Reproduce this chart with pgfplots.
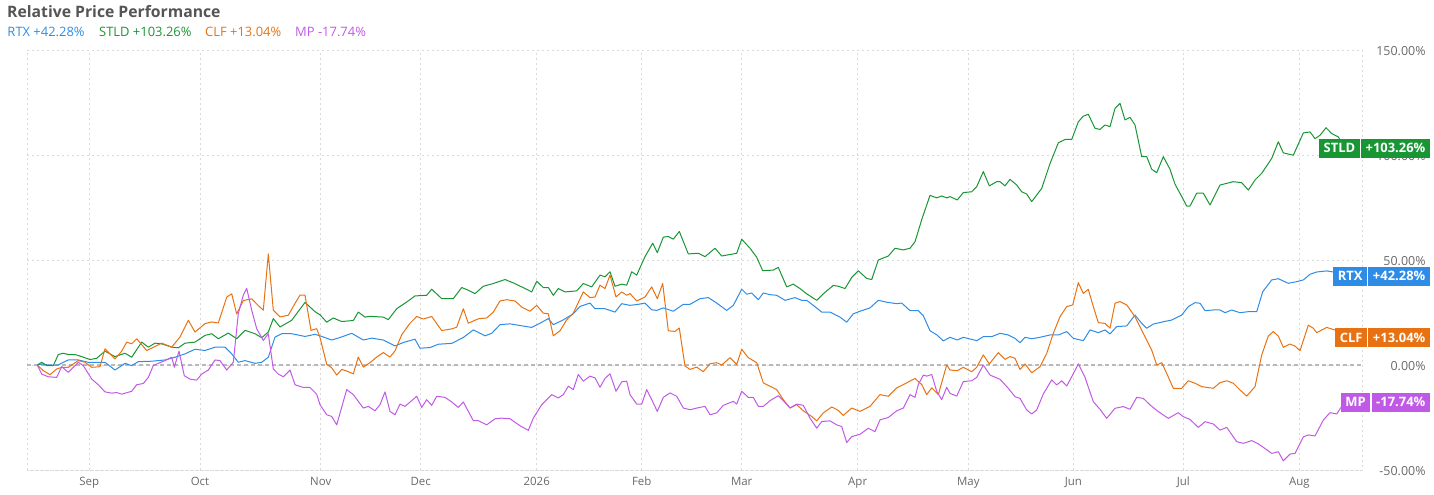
\documentclass[border=0pt]{standalone}
\usepackage{pgfplots}
\pgfplotsset{compat=1.18}
\usepackage{fontspec}
\setmainfont{Open Sans}
\definecolor{rtx}{RGB}{46,140,230}
\definecolor{stld}{RGB}{24,150,52}
\definecolor{clf}{RGB}{232,114,18}
\definecolor{mp}{RGB}{192,90,230}
\definecolor{gridc}{RGB}{218,218,218}
\definecolor{zeroc}{RGB}{185,185,185}
\definecolor{titlec}{RGB}{85,85,85}
\definecolor{tickc}{RGB}{105,105,105}
\newcommand\legfont{\fontsize{13}{15}\selectfont}
\begin{document}
\begin{tikzpicture}[
  endlab/.style={inner xsep=4.5bp, inner ysep=0pt, minimum height=19bp, text=white, font=\fontsize{13}{15}\selectfont\bfseries}]
\useasboundingbox (0bp,-495bp) rectangle (1434bp,0bp);
\node[anchor=base west,inner sep=0,text=titlec,font=\fontsize{15.8}{19}\selectfont\bfseries] at (7bp,-17.3bp) {Relative Price Performance};
\node[anchor=base west,inner sep=0,text=rtx,font=\legfont] at (7.3bp,-36.7bp) {RTX +42.28\%};
\node[anchor=base west,inner sep=0,text=stld,font=\legfont] at (99bp,-36.7bp) {STLD +103.26\%};
\node[anchor=base west,inner sep=0,text=clf,font=\legfont] at (205bp,-36.7bp) {CLF +13.04\%};
\node[anchor=base west,inner sep=0,text=mp,font=\legfont] at (295bp,-36.7bp) {MP -17.74\%};
\begin{axis}[at={(27bp,-470bp)},anchor=south west,scale only axis,width=1335bp,height=420bp,
 xmin=27,xmax=1362,ymin=-50,ymax=150,
 xtick={89.3,200,320.7,420.7,536.7,641.7,741.7,857.7,968.3,1073.3,1183.3,1299.3},
 xticklabels={Sep,Oct,Nov,Dec,2026,Feb,Mar,Apr,May,Jun,Jul,Aug},
 ytick={-50,0,50,100,150},
 yticklabels={-50.00\%,0.00\%,50.00\%,100.00\%,150.00\%},
 yticklabel pos=right,
 grid=major,
 major grid style={gridc, line width=0.8bp, dash pattern=on 2bp off 3bp},
 axis line style={gridc, line width=0.8bp, dash pattern=on 2bp off 3bp},
 major tick length=0pt,
 xticklabel style={anchor=base, inner sep=0pt, yshift=-15bp, font=\fontsize{11.5}{13}\selectfont, text=tickc},
 yticklabel style={anchor=base east, inner sep=0pt, xshift=63.7bp, yshift=-5bp, font=\fontsize{12.5}{14}\selectfont, text=tickc},
 clip=false,
 every axis plot/.append style={line width=1bp, line join=round},
]
\draw[zeroc, line width=1.3bp, dash pattern=on 4bp off 3bp] (axis cs:27,0) -- (axis cs:1362,0);
% RTX
\addplot[rtx] coordinates {
(37.3,0)(41.7,0.5)(48.3,0)(58.3,0)(63.3,1.3)(68.3,2.4)(78.3,2.4)(88.3,1.3)(95,1.3)(105,1.3)
(115,-2.4)(125,0.8)(131.7,-0.3)(138.3,1.6)(151.7,1.8)(165,2.4)(175,3.7)(185,5.3)(195,7.5)(205,6.9)
(215,8.5)(225,8.5)(231.7,5.3)(238.3,1.3)(245,2.1)(255,0.8)(261.7,1.3)(268.3,3.7)(275,13.3)(281.7,14.9)
(291.7,14.9)(305,13.6)(315,14.6)(320,13.9)(331.7,11.9)(340,13.1)(351.7,15.1)(363.3,11.9)(371.7,12.8)(383.3,11.9)
(395,9.1)(403.3,10.7)(415,12.3)(420,8.0)(430,8.3)(438.3,9.9)(451.7,10.3)(463.3,13.1)(473.3,16.7)(485,13.9)
(491.7,15.1)(500,19.2)(510,19.6)(520,18.8)(531.7,17.9)(540,19.9)(548.3,22.1)(553.3,19.2)(563.3,21.5)(573.3,24.4)
(580,27.9)(590,29.5)(595,26.8)(605,26.8)(615,25.2)(621.7,29.2)(630,28.4)(638.3,28.9)(645,29.5)(651.7,26.3)
(656.7,26.0)(663.3,27.2)(673.3,25.6)(683.3,28.9)(690,28.9)(700,31.6)(708.3,32.1)(716.7,29.5)(726.7,26.0)(733.3,28.4)
(741.7,36.1)(746.7,33.7)(751.7,34.3)(758.3,31.1)(763.3,34.3)(770,33.5)(776.7,33.2)(785,30.8)(795,32.1)(801.7,30.8)
(806.7,30.8)(813.3,28.4)(821.7,25.2)(830,25.2)(840,22.8)(846.7,20.4)(853.3,24.4)(860,25.6)(870,27.2)(878.3,30.8)
(886.7,29.9)(896.7,29.2)(901.7,29.5)(910,25.9)(918.3,25.9)(923.3,23.5)(930,16.3)(936.7,14.4)(943.3,11.5)(950,13.2)
(957.3,11.9)(963.3,13.2)(971.7,12.2)(976.7,11.6)(983.3,13.5)(991.7,13.5)(1000,15.1)(1008.3,14.3)(1015,12.7)(1020,10.6)
(1025,13.2)(1031.7,12.5)(1040,13.2)(1050,14.3)(1058.3,14.3)(1066.7,15.9)(1073.3,12.7)(1083.3,11.6)(1090,16.7)(1098.3,15.4)
(1105,16.7)(1110,14.8)(1116.7,18.3)(1126.7,18.6)(1135,23.8)(1141.7,19.8)(1146.7,17.5)(1153.3,19.5)(1163.3,20.6)(1171.7,21.4)
(1181.7,23.8)(1188.3,27.8)(1195,29.7)(1200,29.4)(1205,25.9)(1213.3,26.2)(1220,26.2)(1225,24.9)(1231.7,26.2)(1240,24.9)
(1248.3,25.4)(1256.7,25.4)(1262.7,34.9)(1271.7,40.5)(1278.3,41.1)(1288.3,38.9)(1296.7,39.7)(1303.3,40.5)(1310,43.2)(1316.7,44.3)
(1326.7,44.8)(1333.3,44.3)(1345,42.3)
};
% STLD
\addplot[stld] coordinates {
(37.3,0)(41.7,1.3)(46.7,-0.3)(53.3,-0.3)(58.3,5.0)(63.3,5.6)(68.3,5.0)(75,5.0)(81.7,4.0)(90,2.6)
(96.7,3.2)(105,6.6)(115,4.0)(125,5.6)(131.7,3.7)(141.7,10.9)(148.3,8.5)(155,10.4)(161.7,10.1)(171.7,8.5)
(178.3,8.2)(185,10.4)(195,10.9)(205,14.1)(211.7,14.9)(218.3,12.5)(228.3,15.2)(236.7,12.5)(245,16.5)(255,14.9)
(261.7,13.0)(268.3,15.7)(273.3,22.1)(280,18.1)(291.7,21.3)(305,29.8)(315,25.4)(320,23.9)(326.7,20.4)(333.3,22.4)
(341.7,20.7)(353.3,21.2)(358.3,25.2)(365,22.8)(370,23.2)(383.3,22.8)(388.3,21.6)(396.7,26.8)(406.7,30.0)(415,32.9)
(426.7,33.2)(431.7,36.1)(441.7,31.6)(453.3,31.6)(461.7,36.9)(468.3,35.6)(475,34.0)(483.3,37.5)(493.3,38.8)(505,40.7)
(513.3,39.1)(521.7,37.2)(531.7,34.8)(536.7,39.9)(543.3,36.9)(548.3,36.9)(553.3,33.2)(558.3,36.4)(565,34.8)(576.7,35.3)
(583.3,38.8)(591.7,37.2)(600,42.8)(605,42.0)(610,44.4)(615,37.5)(621.7,38.5)(626.7,38.0)(631.7,44.4)(636.7,42.8)
(645,51.6)(652.7,58.0)(657.3,53.5)(663.3,60.9)(668.3,61.2)(673.3,59.9)(679.3,63.6)(688.3,52.9)(698.3,53.2)(705,51.6)
(715,55.6)(721.7,51.9)(736.7,53.2)(741.7,59.9)(750,55.6)(756.7,51.3)(762.7,44.9)(773.3,45.2)(778.3,46.5)(786.7,37.2)
(793.3,38.5)(800,36.4)(806.7,33.9)(816.7,30.8)(823.3,33.9)(833.3,37.9)(838.3,37.5)(845,36.4)(851.7,41.7)(858.3,44.9)
(866.7,41.2)(871.7,40.7)(878.3,50.0)(888.3,51.9)(895,55.6)(903.3,54.8)(910,55.6)(915,58.7)(921.7,69.2)(930,80.8)
(936.7,79.6)(941.7,80.5)(946.7,79.6)(950,80.2)(957.3,78.6)(963.3,82.1)(971.7,82.5)(976.7,84.9)(983.3,92.1)(989.3,85.3)
(996.7,87.3)(1000,87.3)(1005,85.3)(1010,88.4)(1016.7,85.7)(1021.7,82.5)(1026.7,81.4)(1031.7,77.8)(1041.7,84.1)(1050,95.9)
(1058.3,105.8)(1065,107.4)(1071.7,107.4)(1078.3,115.8)(1083.3,118.5)(1088.3,119.4)(1095,112.7)(1100,112.2)(1105,114.3)(1110,113.5)
(1115,122.2)(1120,124.6)(1125,116.7)(1130,117.9)(1135,114.3)(1141.7,99.2)(1146.7,99.2)(1151.7,93.2)(1156.7,91.6)(1163.3,99.2)
(1170,93.2)(1175,86.1)(1181.7,80.2)(1186.7,75.7)(1190,75.7)(1196.7,81.8)(1203.3,81.8)(1210,76.2)(1220,85.7)(1226.7,86.5)
(1233.3,87.3)(1241.7,86.8)(1248.3,83.3)(1255,88.1)(1261.7,91.3)(1271.7,98.4)(1278.3,106.3)(1283.3,101.0)(1293.3,99.9)(1303.3,110.5)
(1310,111.0)(1315,107.8)(1320,109.4)(1326,113.0)(1331.7,110.2)(1338.3,108.6)(1345,103.3)
};
% CLF
\addplot[clf] coordinates {
(37.3,0)(43.3,-2.7)(50,-4.6)(56.7,-1.9)(61.7,-1.1)(68.3,-1.1)(78.3,2.1)(85,1.3)(91.7,-1.1)(100,-0.8)
(105,7.7)(115,2.9)(121.7,6.6)(126.7,10.9)(131.7,10.1)(136.7,12.5)(146.7,6.9)(155,8.8)(161.7,10.4)(171.7,8.5)
(180,13.3)(188.3,21.3)(195,15.7)(205,19.7)(211.7,20.5)(218.3,20.0)(226.7,32.3)(231.7,33.9)(236.7,24.3)(243.3,30.7)
(251.7,31.5)(258.3,28.3)(263.3,26.1)(268.3,52.9)(273.3,26.1)(280,22.9)(288.3,23.7)(295,29.3)(300,33.3)(305,33.3)
(311,16.5)(316.7,17.3)(320,13.1)(326.7,0.3)(331.7,-1.3)(336.7,-4.8)(341.7,-2.1)(346.7,-2.9)(353.3,-4.2)(358.3,3.8)
(363.3,-1.0)(370,1.1)(376.7,3.8)(383.3,5.9)(390,3.8)(395,6.7)(401.7,14.4)(410,19.9)(416.7,23.1)(423.3,21.9)
(431.7,23.1)(441.7,16.4)(451.7,17.2)(456.7,18.0)(463.3,26.8)(468.3,19.9)(478.3,22.0)(486.7,22.4)(493.3,25.2)(500,30.5)
(506.7,31.1)(515,30.5)(521.7,27.6)(530,25.6)(536.7,28.4)(543.3,24.7)(548.3,24.4)(553.3,13.9)(560,16.3)(566.7,21.5)
(573.3,24.7)(583.3,34.8)(590,32.1)(595,32.4)(600,38.0)(605,36.4)(610,42.8)(616,32.4)(621.7,34.8)(626.7,33.2)
(630,34.0)(636.7,30.5)(645,32.4)(651.7,37.2)(657.3,31.6)(662.7,38.8)(668.3,16.3)(675,16.0)(679.3,17.6)(685,-0.5)
(690,-2.1)(696.7,-1.0)(703.3,-3.2)(710,0.6)(716.7,1.1)(721.7,0)(730,3.5)(736.7,0.3)(741.7,7.5)(748.3,3.5)
(756.7,1.1)(763.3,-8.5)(770,-10.1)(776.7,-11.7)(783.3,-16.5)(790,-20.5)(796.7,-18.9)(803.3,-21.8)(811.7,-24.5)(816.7,-26.6)
(823.3,-22.8)(831.7,-20.0)(838.3,-21.6)(843.3,-24.0)(851.7,-20.5)(860,-22.1)(870,-19.7)(880,-14.1)(888.3,-14.9)(896.7,-10.9)
(906.7,-8.5)(915,-6.4)(921.7,-9.3)(926.7,-14.1)(931.7,-10.9)(938.3,-14.1)(946.7,0)(950,-2.4)(957.3,-2.7)(963.3,-1.1)
(971.7,-3.2)(976.7,-1.1)(983.3,4.8)(989.3,0.5)(998.3,5.9)(1005,2.7)(1010,4.0)(1015,3.2)(1020,-2.1)(1025,0.5)
(1031.7,-3.7)(1040,-0.8)(1046.7,5.5)(1053.3,15.1)(1060,23.0)(1066.7,27.8)(1072.7,28.6)(1078.3,39.2)(1083.3,34.1)(1088.3,36.0)
(1093.3,27.8)(1098.3,20.2)(1105,19.8)(1110,17.5)(1115,29.4)(1120,30.2)(1126.7,28.6)(1135,23.0)(1143.3,15.1)(1151.7,7.1)
(1156.7,0)(1161.7,1.1)(1166.7,-4.0)(1173.3,-11.1)(1181.7,-11.1)(1188.3,-7.5)(1195,-8.7)(1201.7,-10.3)(1213.3,-11.1)(1220,-8.4)
(1226.7,-7.5)(1233.3,-8.7)(1240,-11.9)(1246.7,-14.8)(1255,-10.3)(1261.7,4.8)(1268.3,13.8)(1273.3,15.9)(1278.3,13.8)(1283.3,8.4)
(1290,10.0)(1295,9.0)(1300,6.8)(1308.3,19.0)(1313.3,17.5)(1316.7,15.4)(1326.7,17.9)(1336.7,16.4)(1345,13.0)
};
% MP
\addplot[mp] coordinates {
(37.3,0)(41.7,-4.3)(48.3,-5.6)(56.7,-5.9)(61.7,-0.8)(68.3,-3.5)(78.3,1.3)(83.3,-0.3)(91.7,-6.7)(98.3,-9.4)
(105,-12.8)(111.7,-13.4)(116.7,-13.1)(121.7,-13.9)(131.7,-12.5)(136.7,-9.4)(143.3,-8.8)(148.3,-5.9)(153.3,-0.3)(158.3,0.8)
(165,2.1)(171.7,3.7)(174.3,-1.1)(179,6.6)(184.3,-5.1)(190,-6.7)(196.7,-7.2)(201.7,-4.3)(208.3,-2.4)(215,2.4)
(220,2.1)(226.7,-2.4)(233.3,1.3)(238.3,24.5)(243.3,33.3)(246.7,36.5)(251.7,26.1)(256.7,17.3)(263.3,11.7)(268.3,14.9)
(273.3,-1.9)(278.3,-4.3)(283.3,-5.6)(290,-2.4)(295,-9.4)(303.3,-10.7)(310,-10.7)(316.7,-13.9)(320,-18.9)(326.7,-23.7)
(331.7,-24.5)(336.7,-28.5)(346.7,-11.7)(353.3,-14.1)(363.3,-20.5)(368.3,-19.7)(375,-21.8)(380,-18.9)(385,-12.8)(390,-22.1)
(395,-23.7)(400,-18.6)(405,-19.7)(416.7,-14.9)(421.7,-20.2)(426.7,-16.5)(431.7,-19.2)(436.7,-14.9)(445,-15.4)(451.7,-17.6)
(458.3,-20.2)(463.3,-17.6)(473.3,-26.5)(478.3,-26.5)(486.7,-28.5)(495,-25.6)(501.7,-25.3)(510,-25.6)(520,-28.9)(528.3,-31.1)
(533.3,-25.3)(541.7,-18.9)(551.7,-14.1)(558.3,-15.7)(563.3,-14.1)(568.3,-10.1)(573.3,-11.7)(578.3,-4.5)(583.3,-7.7)(590,-5.3)
(595,-6.1)(600,-10.6)(605,-6.4)(610,-4.2)(616,-12.5)(621.7,-8.0)(626.7,-7.7)(630,-14.1)(636.7,-18.6)(641.7,-18.6)
(646.7,-11.7)(651.7,-16.5)(657.3,-22.1)(663.3,-15.4)(670,-13.3)(676.7,-14.9)(683.3,-20.5)(690,-21.3)(696.7,-20.5)(705,-19.7)
(710,-23.7)(716.7,-22.8)(723.3,-19.2)(733.3,-17.3)(736.7,-18.6)(741.7,-12.5)(748.3,-15.4)(753.3,-15.4)(758.3,-19.7)(763.3,-19.7)
(770,-17.0)(778.3,-14.6)(783.3,-17.0)(790,-20.5)(796.7,-18.6)(803.3,-19.2)(810,-25.3)(816.7,-30.1)(821.7,-26.9)(830,-26.6)
(836.7,-28.5)(841.7,-29.3)(846.7,-36.9)(851.7,-34.1)(860,-33.0)(868.3,-30.1)(875,-31.7)(880,-26.1)(888.3,-25.0)(896.7,-21.8)
(903.3,-20.5)(910,-14.1)(915,-15.4)(918.3,-9.3)(923.3,-4.8)(926.7,-5.3)(931.7,-4.5)(936.7,-12.5)(941.7,-16.5)(946.7,-10.6)
(950,-13.5)(956.7,-14.8)(963.3,-7.9)(971.7,-7.5)(976.7,-5.9)(983.3,0)(990,-4.8)(1000,-6.8)(1008.3,-11.1)(1015,-15.1)
(1020,-15.9)(1026.7,-21.4)(1031.7,-23.3)(1036.7,-21.4)(1043.3,-13.8)(1051.7,-7.1)(1056.7,-9.5)(1061.7,-7.5)(1066.7,-10.0)(1071.7,-5.6)
(1078.3,0.5)(1085,-5.9)(1093.3,-17.5)(1100,-21.1)(1106.7,-25.4)(1115,-20.6)(1123.3,-19.8)(1130,-21.1)(1136.7,-15.4)(1143.3,-15.9)
(1150,-19.0)(1158.3,-22.2)(1168.3,-25.4)(1178.3,-22.7)(1183.3,-24.6)(1190,-25.9)(1198.3,-29.7)(1205,-27.0)(1213.3,-28.1)(1220,-31.0)
(1226.7,-29.7)(1236.7,-36.5)(1243.3,-37.3)(1251.7,-36.0)(1258.3,-37.6)(1263.3,-39.2)(1271.7,-42.1)(1278.3,-41.3)(1283.3,-45.6)(1290,-42.4)
(1295,-42.1)(1303.3,-34.2)(1308.3,-33.3)(1315,-33.8)(1323.3,-26.2)(1330,-22.7)(1336.7,-23.3)(1343.3,-18.5)
};
\coordinate (eS) at (axis cs:1362,103.26);
\coordinate (eR) at (axis cs:1362,42.28);
\coordinate (eC) at (axis cs:1362,13.04);
\coordinate (eM) at (axis cs:1362,-17.74);
\end{axis}
\node[endlab,fill=stld,anchor=east] (vS) at ([xshift=68bp]eS) {+103.26\%};
\node[endlab,fill=stld,anchor=east] at ([xshift=-1bp]vS.west) {STLD};
\node[endlab,fill=rtx,anchor=east] (vR) at ([xshift=68bp]eR) {+42.28\%};
\node[endlab,fill=rtx,anchor=east] at ([xshift=-1bp]vR.west) {RTX};
\node[endlab,fill=clf,anchor=east] (vC) at ([xshift=68bp]eC) {+13.04\%};
\node[endlab,fill=clf,anchor=east] at ([xshift=-1bp]vC.west) {CLF};
\node[endlab,fill=mp,anchor=east] (vM) at ([xshift=68bp]eM) {-17.74\%};
\node[endlab,fill=mp,anchor=east] at ([xshift=-1bp]vM.west) {MP};
\end{tikzpicture}
\end{document}
